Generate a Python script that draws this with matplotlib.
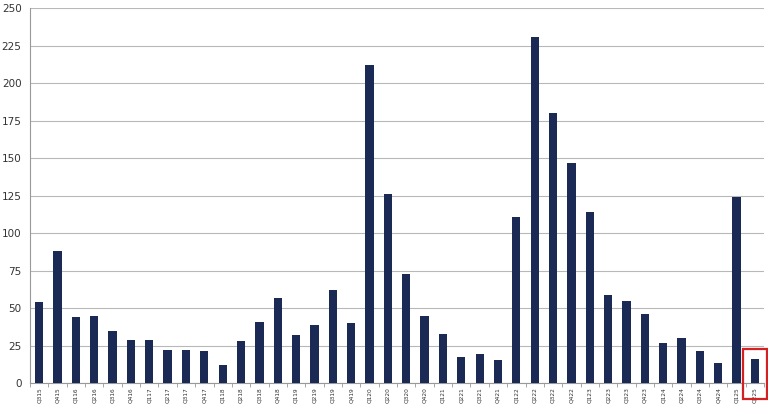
import numpy as np
import matplotlib.pyplot as plt
from matplotlib.patches import Rectangle

# quarters Q3'15 .. Q2'25
quarters = ['Q315', 'Q415',
            'Q116', 'Q216', 'Q316', 'Q416',
            'Q117', 'Q217', 'Q317', 'Q417',
            'Q118', 'Q218', 'Q318', 'Q418',
            'Q119', 'Q219', 'Q319', 'Q419',
            'Q120', 'Q220', 'Q320', 'Q420',
            'Q121', 'Q221', 'Q321', 'Q421',
            'Q122', 'Q222', 'Q322', 'Q422',
            'Q123', 'Q223', 'Q323', 'Q423',
            'Q124', 'Q224', 'Q324', 'Q424',
            'Q125', 'Q225']
values = [54, 88,
          44, 45, 35, 29,
          29, 22, 22, 21,
          12, 28, 41, 57,
          32, 39, 62, 40,
          212, 126, 73, 45,
          33, 17, 19, 15,
          111, 231, 180, 147,
          114, 59, 55, 46,
          27, 30, 21, 13,
          124, 16]
yticks = [0, 25, 50, 75, 100, 125, 150, 175, 200, 225, 250]

fig = plt.figure(figsize=(7.68, 4.07), dpi=100)
ax = fig.add_axes([0.039, 0.059, 0.956, 0.921])

x = np.arange(len(quarters))
ax.bar(x, values, width=0.45, color='#1b2a55', zorder=3)

ax.set_xlim(-0.5, len(quarters) - 0.5)
ax.set_ylim(0, 250)
ax.set_yticks(yticks)
ax.grid(axis='y', color='#b8b8b8', linewidth=0.8, zorder=0)
ax.set_xticks(x)
ax.set_xticklabels(quarters, rotation=90, fontsize=4.2, color='#333333')
ax.tick_params(axis='x', length=0, pad=3)
ax.set_xticks(np.arange(-0.5, len(quarters), 1), minor=True)
ax.tick_params(axis='x', which='minor', length=3, color='#999999')
ax.tick_params(axis='y', length=0, labelsize=7.5, colors='#333333', pad=6)

for s in ['top', 'right']:
    ax.spines[s].set_visible(False)
ax.spines['left'].set_color('#999999')
ax.spines['bottom'].set_color('#999999')

# highlight box round the latest quarter
ax.add_patch(Rectangle((38.35, -10.5), 1.32, 33.5, fill=False,
                       edgecolor='#d42020', linewidth=1.6, clip_on=False, zorder=5))

fig.savefig('out.png', dpi=100)
